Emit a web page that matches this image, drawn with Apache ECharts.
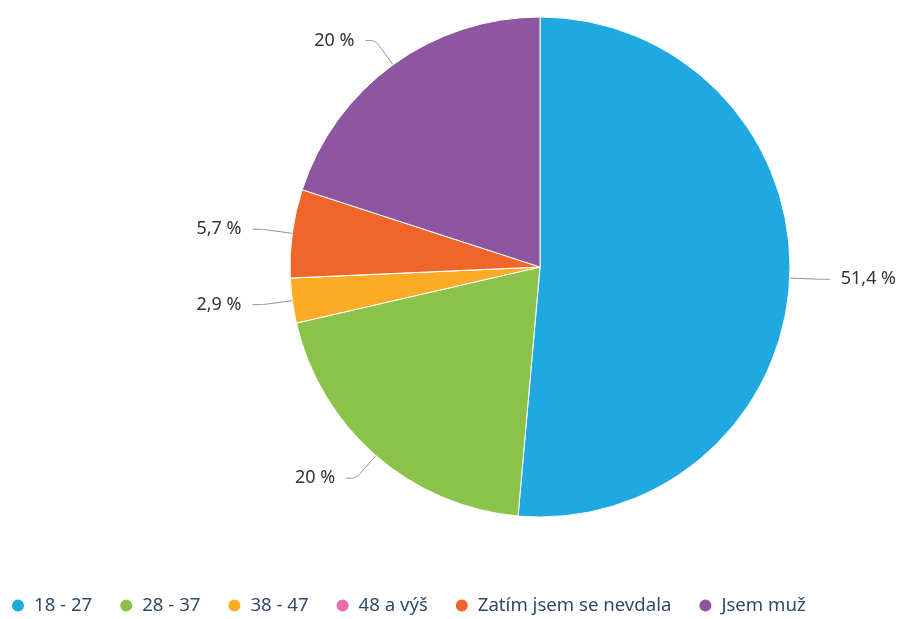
<!DOCTYPE html>
<html>
<head>
<meta charset="utf-8">
<script src="https://cdn.jsdelivr.net/npm/echarts@6/dist/echarts.min.js"></script>
<style>
  html, body { margin: 0; padding: 0; background: #fff; }
  #chart { width: 901px; height: 619px; }
</style>
</head>
<body>
<div id="chart"></div>
<script>
// age groups and their share (%)
const categories = ['18 - 27', '28 - 37', '38 - 47', '48 a výš', 'Zatím jsem se nevdala', 'Jsem muž']
const values = [51.4, 20, 2.9, 0, 5.7, 20]
const colors = ['#20a9e1', '#8bc34a', '#fbab25', '#e96cac', '#f0652a', '#8e55a0']

const chart = echarts.init(document.getElementById('chart'))

const pieData = categories.map((name, i) => {
  const item = { name: name, value: values[i] }
  if (values[i] === 0) {
    // empty slice -> no label
    item.label = { show: false }
    item.labelLine = { show: false }
  }
  return item
})

chart.setOption({
  color: colors,
  animation: false,
  legend: {
    bottom: -1,
    left: 5,
    icon: 'circle',
    itemWidth: 14,
    itemHeight: 14,
    itemGap: 26,
    textStyle: {
      fontFamily: 'Noto Sans',
      fontSize: 18.6,
      color: '#2f4a68',
      padding: [0, 0, 0, 4]
    },
    data: categories
  },
  series: [
    {
      type: 'pie',
      center: [540, 267],
      radius: 250,
      startAngle: 90,
      clockwise: true,
      data: pieData,
      itemStyle: {
        borderColor: '#fff',
        borderWidth: 1
      },
      label: {
        fontFamily: 'Noto Sans',
        fontSize: 18,
        color: '#333',
        overflow: 'none',
        edgeDistance: 0,
        distanceToLabelLine: 11,
        formatter: p => String(p.value).replace('.', ',') + ' %'
      },
      labelLine: {
        length: 30,
        length2: 10,
        smooth: 0.3,
        lineStyle: { color: '#8c8c8c', width: 1 }
      }
    }
  ]
})
</script>
</body>
</html>
